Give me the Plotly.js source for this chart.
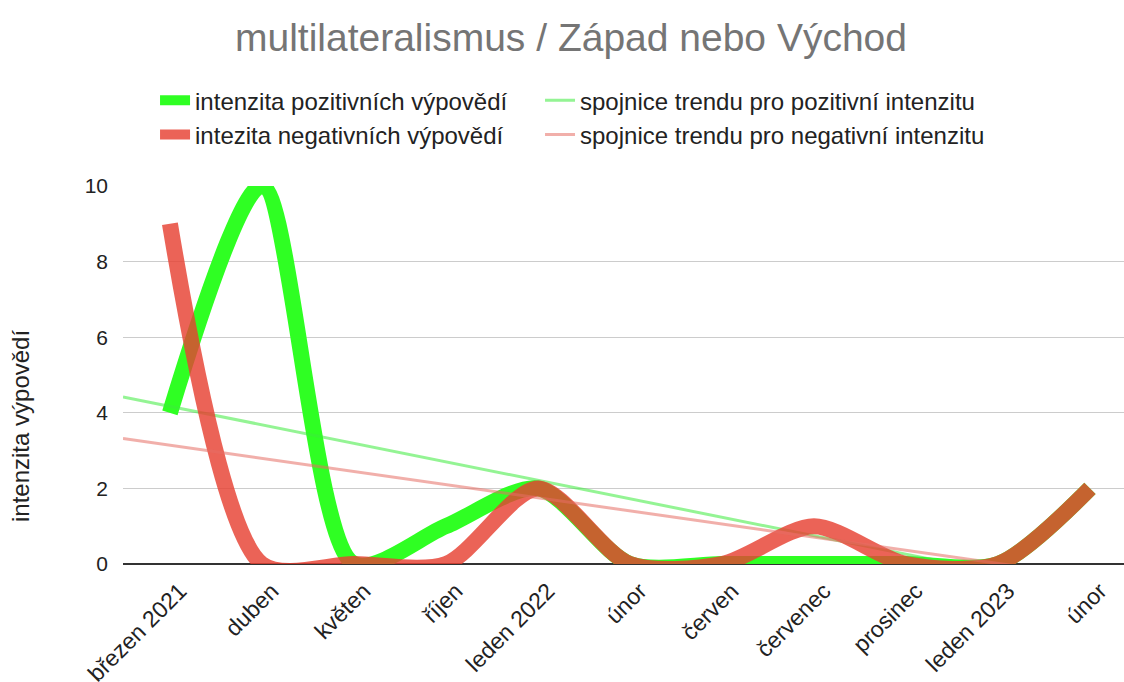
<!DOCTYPE html>
<html>
<head>
<meta charset="utf-8">
<script src="https://cdn.plot.ly/plotly-3.0.1.min.js"></script>
<style>html,body{margin:0;padding:0;background:#fff;}#chart{width:1124px;height:682px;}</style>
</head>
<body>
<div id="chart"></div>
<script>
var categories = ["březen 2021","duben","květen","říjen","leden 2022","únor","červen","červenec","prosinec","leden 2023","únor"];
var positive = [4, 10, 0, 1, 2, 0, 0, 0, 0, 0, 2];
var negative = [9, 0, 0, 0, 2, 0, 0, 1, 0, 0, 2];
// trend line values, at the left and right edges of the plot
var trendX = [-0.51, 10.37];
var trendPositive = [4.42, -0.9];
var trendNegative = [3.32, -0.46];
var yTitle = "intenzita výpovědí";

var idx = categories.map(function(_, i){ return i; });

var traces = [
  {x: idx, y: positive, name: "intenzita pozitivních výpovědí", mode: "lines", legend: "legend",
   line: {color: "rgb(47,255,35)", width: 16, shape: "spline", smoothing: 0.8}},
  {x: trendX, y: trendPositive, name: "spojnice trendu pro pozitivní intenzitu", mode: "lines", legend: "legend2",
   line: {color: "rgba(60,235,60,0.55)", width: 3}},
  {x: idx, y: negative, name: "intezita negativních výpovědí", mode: "lines", legend: "legend",
   line: {color: "rgba(230,65,50,0.82)", width: 16, shape: "spline", smoothing: 0.8}},
  {x: trendX, y: trendNegative, name: "spojnice trendu pro negativní intenzitu", mode: "lines", legend: "legend2",
   line: {color: "rgba(230,110,100,0.55)", width: 3}}
];

var legendBase = {orientation: "v", xanchor: "left", yanchor: "top",
                  y: 1.285, font: {size: 24, color: "#222"}, traceorder: "normal", bgcolor: "rgba(0,0,0,0)"};

var layout = {
  width: 1124, height: 682,
  margin: {l: 123, r: 0, t: 186, b: 118},
  paper_bgcolor: "#fff", plot_bgcolor: "#fff",
  font: {family: "Liberation Sans, Arial, sans-serif", color: "#222", size: 21},
  title: {text: "multilateralismus / Západ nebo Východ", x: 0.508, xanchor: "center", y: 0.945, yanchor: "middle",
          font: {size: 39, color: "#757575"}},
  showlegend: true,
  legend: Object.assign({}, legendBase, {x: 0.032}),
  legend2: Object.assign({}, legendBase, {x: 0.4166}),
  xaxis: {range: trendX, tickvals: idx, ticktext: categories, tickangle: -45,
          showgrid: false, zeroline: false, showline: false, ticks: "", fixedrange: true,
          ticklabelstandoff: 8, ticklabelshift: 10, automargin: false,
          tickfont: {size: 23, color: "#222"}},
  yaxis: {range: [0, 10], tickvals: [0,2,4,6,8,10], showgrid: true, gridcolor: "#cccccc", gridwidth: 1,
          zeroline: true, zerolinecolor: "#333", zerolinewidth: 2, ticks: "", ticklen: 0,
          ticklabelstandoff: 14, automargin: false,
          tickfont: {size: 21, color: "#222"}},
  annotations: [{text: yTitle, textangle: -90, xref: "paper", yref: "paper", x: (20 - 123) / 1001, y: 0.365,
                 xanchor: "center", yanchor: "middle", showarrow: false, font: {size: 24, color: "#222"}}]
};

Plotly.newPlot("chart", traces, layout, {displayModeBar: false, staticPlot: true});
</script>
</body>
</html>
